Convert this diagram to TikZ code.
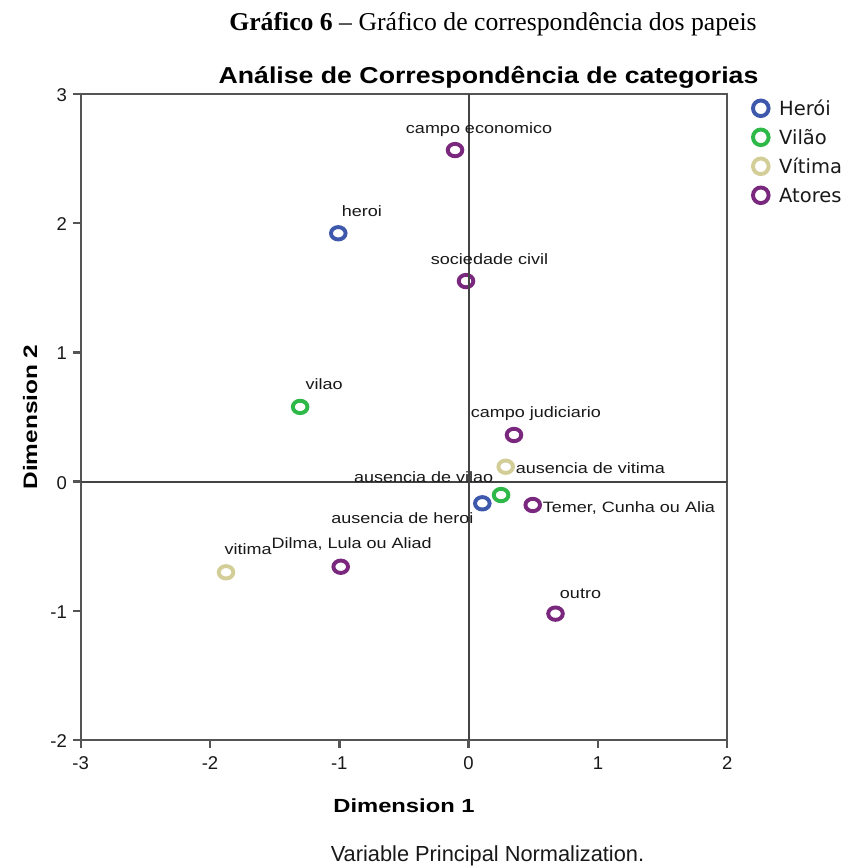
\documentclass[tikz,border=0pt]{standalone}
\usepackage{fontspec}
\setmainfont{Liberation Sans}
\newfontfamily\capfont{Liberation Serif}
\newfontfamily\lblfont[FakeStretch=1.2]{Liberation Sans}
\newfontfamily\ttlfont[FakeStretch=1.16]{Liberation Sans}
\newfontfamily\dimfont[FakeStretch=1.25]{Liberation Sans}
\newfontfamily\legfont{DejaVu Sans}
\usetikzlibrary{shapes.geometric}
\definecolor{cHero}{RGB}{62,88,172}
\definecolor{cVil}{RGB}{46,184,72}
\definecolor{cVit}{RGB}{211,206,151}
\definecolor{cAtor}{RGB}{121,40,126}
\definecolor{cFrame}{RGB}{85,85,85}
\definecolor{cTxt}{RGB}{25,25,25}
\begin{document}
\begin{tikzpicture}[x=1pt,y=-1pt,
  frame/.style={draw=cFrame, line width=2.4pt},
  zeroline/.style={draw=cFrame!80!black, line width=1.9pt},
  mk/.style={ellipse, draw, line width=3.9pt, minimum width=14.6pt, minimum height=12.4pt, inner sep=0pt},
  lg/.style={circle, draw, line width=3.9pt, minimum size=15.6pt, inner sep=0pt},
  lbl/.style={inner sep=0pt, text=cTxt, font=\lblfont\fontsize{15}{18}\selectfont},
  tick/.style={inner sep=0pt, text=cTxt, font=\fontsize{18.5}{22}\selectfont},
  legtxt/.style={inner sep=0pt, text=cTxt, font=\legfont\fontsize{19.5}{23}\selectfont, anchor=base west},
]
\useasboundingbox (0,0) rectangle (847,866);
\fill[white] (0,0) rectangle (847,866);

% caption and title
\node[inner sep=0pt, anchor=base, font=\capfont\fontsize{25.7}{30}\selectfont] (cap) at (493,31)
  {\textbf{Gráfico 6} – Gráfico de correspondência dos papeis};
\node[inner sep=0pt, anchor=base, font=\ttlfont\bfseries\fontsize{23}{27}\selectfont] (ttl) at (488.5,84)
  {Análise de Correspondência de categorias};

% frame and ticks
\draw[frame] (80.7,94) rectangle (727,740);
\foreach \i [count=\n] in {-3,...,2}{
  \draw[frame] ({468.6+129.3*\i},740) -- ++(0,8);
  \node[tick, anchor=base] (xt\n) at ({468.6+129.3*\i},769.5) {\i};
}
\foreach \j [count=\n] in {-2,...,3}{
  \draw[frame] (80.7,{481.6-129.2*\j}) -- ++(-8,0);
  \node[tick, anchor=base east] (yt\n) at (67,{481.6-129.2*\j+7.5}) {\j};
}

% axis titles
\node[inner sep=0pt, anchor=base, font=\dimfont\bfseries\fontsize{19}{22}\selectfont] (d1) at (404,812) {Dimension 1};
\node[inner sep=0pt, anchor=base, rotate=90, font=\dimfont\bfseries\fontsize{19.5}{22}\selectfont] (d2) at (37,417) {Dimension 2};
\node[inner sep=0pt, anchor=base, text=cTxt, font=\fontsize{21.8}{25}\selectfont] (foot) at (487.5,861) {Variable Principal Normalization.};

% points
\begin{scope}[shift={(468.6,481.6)}, x=129.3pt, y=129.2pt]
\node[mk, draw=cAtor] (ce) at (-0.105,2.566) {};
\node[mk, draw=cHero] (he) at (-1.008,1.922) {};
\node[mk, draw=cAtor] (sc) at (-0.020,1.552) {};
\node[mk, draw=cVil]  (vl) at (-1.303,0.578) {};
\node[mk, draw=cAtor] (cj) at (0.351,0.361) {};
\node[mk, draw=cVit]  (avt) at (0.287,0.115) {};
\node[mk, draw=cVil]  (avl) at (0.251,-0.104) {};
\node[mk, draw=cHero] (ahe) at (0.106,-0.168) {};
\node[mk, draw=cAtor] (tm) at (0.496,-0.181) {};
\node[mk, draw=cVit]  (vt) at (-1.876,-0.702) {};
\node[mk, draw=cAtor] (dl) at (-0.989,-0.659) {};
\node[mk, draw=cAtor] (ou) at (0.672,-1.022) {};
\end{scope}

% zero lines
\draw[zeroline] (468.6,94) -- (468.6,740);
\draw[zeroline] (80.7,481.6) -- (727,481.6);

% labels
\node[lbl, anchor=base] (lce) at ([shift={(24pt,17pt)}]ce.center) {campo economico};
\node[lbl, anchor=base] (lhe) at ([shift={(23.5pt,16.6pt)}]he.center) {heroi};
\node[lbl, anchor=base] (lsc) at ([shift={(23.5pt,17pt)}]sc.center) {sociedade civil};
\node[lbl, anchor=base] (lvl) at ([shift={(24pt,17pt)}]vl.center) {vilao};
\node[lbl, anchor=base] (lcj) at ([shift={(22pt,17pt)}]cj.center) {campo judiciario};
\node[lbl, anchor=base west] (lavt) at ([shift={(10pt,-6.6pt)}]avt.center) {ausencia de vitima};
\node[lbl, anchor=base] (lavl) at ([shift={(-77.5pt,13pt)}]avl.center) {ausencia de vilao};
\node[lbl, anchor=base] (lahe) at ([shift={(-80pt,-20pt)}]ahe.center) {ausencia de heroi};
\node[lbl, anchor=base west] (ltm) at ([shift={(10pt,-7.7pt)}]tm.center) {Temer, Cunha ou Alia};
\node[lbl, anchor=base] (lvt) at ([shift={(22pt,18pt)}]vt.center) {vitima};
\node[lbl, anchor=base] (ldl) at ([shift={(11pt,18pt)}]dl.center) {Dilma, Lula ou Aliad};
\node[lbl, anchor=base] (lou) at ([shift={(25pt,15pt)}]ou.center) {outro};

% legend
\node[lg, draw=cHero] (g1) at (760.8,108.3) {};
\node[lg, draw=cVil]  (g2) at (760.8,137.3) {};
\node[lg, draw=cVit]  (g3) at (760.8,166.3) {};
\node[lg, draw=cAtor] (g4) at (760.8,195.3) {};
\node[legtxt] (t1) at (779,115.3) {Herói};
\node[legtxt] (t2) at (779,144.3) {Vilão};
\node[legtxt] (t3) at (779,173.3) {Vítima};
\node[legtxt] (t4) at (779,202.3) {Atores};
\end{tikzpicture}
\end{document}
